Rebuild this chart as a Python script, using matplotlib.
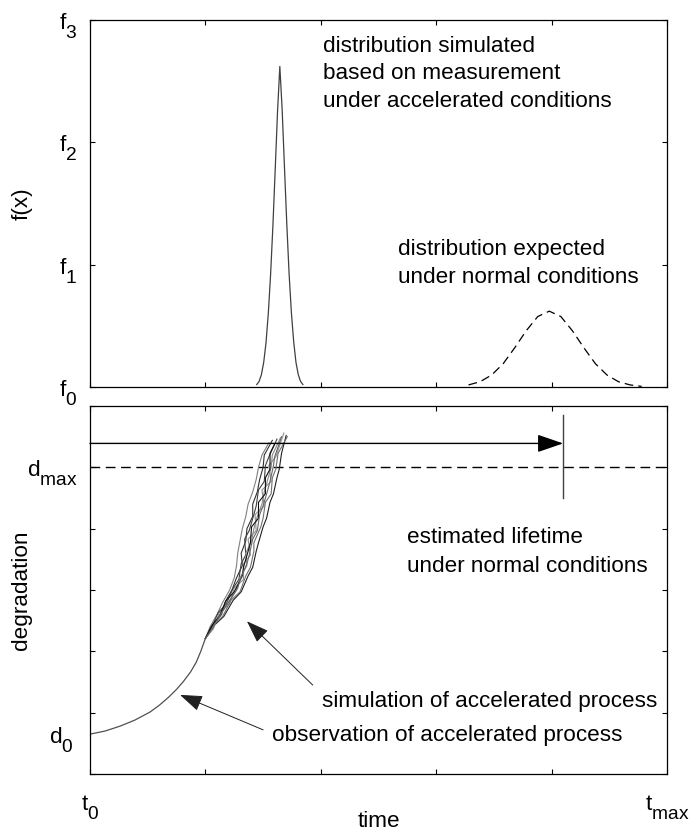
import matplotlib
matplotlib.use("Agg")
import matplotlib.pyplot as plt
try:
    import matplotlib._mathtext as _mt
    _mt.SHRINK_FACTOR = 0.85
    _mt.FontConstantsBase.sub1 = 0.75
    _mt.FontConstantsBase.sub2 = 0.75
except Exception:
    pass

plt.rcParams['font.family'] = ['Liberation Sans', 'DejaVu Sans']
plt.rcParams['mathtext.fontset'] = 'custom'
plt.rcParams['mathtext.rm'] = 'Liberation Sans'
plt.rcParams['mathtext.it'] = 'Liberation Sans:italic'
plt.rcParams['mathtext.bf'] = 'Liberation Sans:bold'

FS = 16.2

# ---------------- data ----------------
x_ticks = [0, 1, 2, 3, 4, 5]
x_ticklabels = [r'$\mathrm{t}_0$', '', '', '', '', r'$\mathrm{t}_{\mathrm{max}}$']
f_ticks = [0, 1, 2, 3]
f_ticklabels = [r'$\mathrm{f}_0$', r'$\mathrm{f}_1$', r'$\mathrm{f}_2$', r'$\mathrm{f}_3$']
d_ticks = [0, 1, 2, 3, 4, 5, 6]
d_ticklabels = ['', '', '', '', '', r'$\mathrm{d}_{\mathrm{max}}$', '']
d0_level = 0.65
dmax_level = 5.0

# simulated distribution (accelerated) - solid peak
acc_x = [1.445, 1.465, 1.485, 1.505, 1.525, 1.545, 1.565, 1.585, 1.605, 1.625, 1.645,
         1.665, 1.685, 1.705, 1.725, 1.745, 1.765, 1.785, 1.805, 1.825, 1.845]
acc_y = [0.02, 0.045, 0.10, 0.20, 0.36, 0.60, 0.92, 1.32, 1.78, 2.25, 2.62,
         2.27, 1.80, 1.34, 0.93, 0.61, 0.37, 0.20, 0.10, 0.045, 0.02]

# expected distribution (normal conditions) - dashed
nor_x = [3.28, 3.38, 3.48, 3.58, 3.68, 3.78, 3.88, 3.98, 4.08, 4.18, 4.28, 4.38, 4.48,
         4.58, 4.68, 4.78]
nor_y = [0.017, 0.043, 0.098, 0.19, 0.32, 0.46, 0.576, 0.62, 0.576, 0.46, 0.32, 0.19,
         0.098, 0.043, 0.017, 0.005]

# observed degradation of accelerated process
obs_x = [0.00, 0.13, 0.26, 0.39, 0.52, 0.60, 0.68, 0.75, 0.81, 0.87, 0.92, 0.96, 1.00]
obs_y = [0.65, 0.70, 0.78, 0.88, 1.01, 1.12, 1.25, 1.38, 1.51, 1.66, 1.82, 2.00, 2.21]

# simulated degradation paths
sim_x = [
    [1.00, 1.04, 1.10, 1.15, 1.21, 1.25, 1.27, 1.28, 1.30, 1.32, 1.35, 1.37, 1.41, 1.44, 1.46, 1.49, 1.55],
    [1.00, 1.08, 1.16, 1.24, 1.31, 1.37, 1.41, 1.44, 1.46, 1.50, 1.53, 1.56, 1.59, 1.62, 1.64, 1.66, 1.70],
    [1.00, 1.07, 1.12, 1.21, 1.25, 1.33, 1.33, 1.39, 1.37, 1.44, 1.43, 1.51, 1.49, 1.57, 1.55, 1.61, 1.68],
    [1.00, 1.05, 1.14, 1.17, 1.23, 1.27, 1.32, 1.31, 1.35, 1.36, 1.41, 1.41, 1.45, 1.47, 1.50, 1.51, 1.58],
    [1.00, 1.07, 1.15, 1.22, 1.30, 1.35, 1.39, 1.42, 1.42, 1.48, 1.50, 1.52, 1.57, 1.58, 1.61, 1.63, 1.71],
    [1.00, 1.05, 1.11, 1.18, 1.24, 1.29, 1.31, 1.35, 1.34, 1.38, 1.42, 1.44, 1.46, 1.51, 1.52, 1.55, 1.62],
    [1.00, 1.07, 1.13, 1.20, 1.27, 1.30, 1.36, 1.35, 1.40, 1.42, 1.45, 1.49, 1.51, 1.54, 1.57, 1.58, 1.65],
    [1.00, 1.06, 1.12, 1.18, 1.25, 1.32, 1.33, 1.37, 1.39, 1.40, 1.46, 1.46, 1.52, 1.52, 1.56, 1.56, 1.60],
    [1.00, 1.06, 1.14, 1.19, 1.28, 1.30, 1.36, 1.38, 1.41, 1.45, 1.47, 1.50, 1.54, 1.56, 1.59, 1.60, 1.66],
]
sim_y = [
    [2.21, 2.40, 2.60, 2.80, 3.00, 3.20, 3.40, 3.60, 3.80, 4.00, 4.20, 4.40, 4.60, 4.80, 5.00, 5.20, 5.40],
    [2.21, 2.43, 2.57, 2.83, 2.97, 3.23, 3.37, 3.63, 3.77, 4.03, 4.17, 4.43, 4.57, 4.83, 4.97, 5.23, 5.52],
    [2.21, 2.37, 2.63, 2.77, 3.03, 3.17, 3.43, 3.57, 3.83, 3.97, 4.23, 4.37, 4.63, 4.77, 5.03, 5.17, 5.56],
    [2.21, 2.40, 2.60, 2.80, 3.00, 3.20, 3.40, 3.60, 3.80, 4.00, 4.20, 4.40, 4.60, 4.80, 5.00, 5.20, 5.44],
    [2.21, 2.43, 2.57, 2.83, 2.97, 3.23, 3.37, 3.63, 3.77, 4.03, 4.17, 4.43, 4.57, 4.83, 4.97, 5.23, 5.50],
    [2.21, 2.37, 2.63, 2.77, 3.03, 3.17, 3.43, 3.57, 3.83, 3.97, 4.23, 4.37, 4.63, 4.77, 5.03, 5.17, 5.46],
    [2.21, 2.40, 2.60, 2.80, 3.00, 3.20, 3.40, 3.60, 3.80, 4.00, 4.20, 4.40, 4.60, 4.80, 5.00, 5.20, 5.48],
    [2.21, 2.43, 2.57, 2.83, 2.97, 3.23, 3.37, 3.63, 3.77, 4.03, 4.17, 4.43, 4.57, 4.83, 4.97, 5.23, 5.38],
    [2.21, 2.37, 2.63, 2.77, 3.03, 3.17, 3.43, 3.57, 3.83, 3.97, 4.23, 4.37, 4.63, 4.77, 5.03, 5.17, 5.50],
]
sim_colors = ['#808080', '#202020', '#909090', '#303030', '#707070', '#404040',
              '#888888', '#101010', '#666666']

lifetime_level = 5.39
lifetime_x = 4.10
lifetime_bar = [4.50, 5.85]

# ---------------- figure ----------------
W, H = 689, 834
fig = plt.figure(figsize=(W / 100, H / 100), dpi=100)
ax1 = fig.add_axes([90 / W, 1 - 387 / H, 577 / W, 367 / H])
ax2 = fig.add_axes([90 / W, 1 - 774 / H, 577 / W, 368 / H])

for ax in (ax1, ax2):
    ax.set_xlim(0, 5)
    ax.set_xticks(x_ticks)
    ax.tick_params(direction='in', length=3.6, width=0.8, top=True, right=True,
                   labelsize=FS, pad=9, colors='black')
    for s in ax.spines.values():
        s.set_linewidth(0.9)
        s.set_color('black')

# top panel
ax1.set_ylim(0, 3)
ax1.set_yticks(f_ticks)
ax1.set_yticklabels(f_ticklabels)
ax1.set_xticklabels([''] * len(x_ticks))
ax1.plot(acc_x, acc_y, color='#404040', lw=0.9)
ax1.plot(nor_x, nor_y, color='black', lw=0.9, linestyle=(0, (7, 4)))
ax1.set_ylabel('f(x)', fontsize=FS)
ax1.yaxis.set_label_coords(-0.1, 0.5)


def tx(xpx, ypx, s):
    fig.text(xpx / W, 1 - ypx / H, s, fontsize=FS, ha='left', va='baseline')


tx(323, 52, 'distribution simulated')
tx(323, 79, 'based on measurement')
tx(323, 107, 'under accelerated conditions')
tx(398, 255, 'distribution expected')
tx(398, 283, 'under normal conditions')

# bottom panel
ax2.set_ylim(0, 6)
ax2.set_yticks(d_ticks)
ax2.set_yticklabels(d_ticklabels)
ax2.set_yticks([d0_level], minor=True)
ax2.set_yticklabels([r'$\mathrm{d}_0$'], minor=True)
ax2.tick_params(axis='y', which='minor', length=0, labelsize=FS, pad=12)
ax2.set_xticklabels(x_ticklabels)
ax2.tick_params(axis='x', pad=14)
ax2.set_ylabel('degradation', fontsize=FS)
ax2.yaxis.set_label_coords(-0.1, 0.5)
ax2.set_xlabel('time', fontsize=FS)
ax2.xaxis.set_label_coords(0.5, -0.1)

ax2.axhline(dmax_level, color='black', lw=1.0, linestyle=(0, (7, 4)))
ax2.plot(obs_x, obs_y, color='#505050', lw=0.9)
for xs, ys, c in zip(sim_x, sim_y, sim_colors):
    ax2.plot(xs, ys, color=c, lw=0.8)

ax2.annotate('', xy=(lifetime_x, lifetime_level), xytext=(0, lifetime_level),
             arrowprops=dict(arrowstyle='-|>,head_length=1.6,head_width=0.55',
                             color='black', lw=1.0, shrinkA=0, shrinkB=0,
                             mutation_scale=10))
ax2.plot([lifetime_x, lifetime_x], lifetime_bar, color='#404040', lw=1.0)

ax2.annotate('', xy=(1.36, 2.49), xytext=(1.93, 1.45),
             arrowprops=dict(arrowstyle='-|>,head_length=1.4,head_width=0.5',
                             color='#202020', lw=0.7, shrinkA=0, shrinkB=0,
                             mutation_scale=10))
ax2.annotate('', xy=(0.78, 1.29), xytext=(1.50, 0.72),
             arrowprops=dict(arrowstyle='-|>,head_length=1.4,head_width=0.5',
                             color='#202020', lw=0.7, shrinkA=0, shrinkB=0,
                             mutation_scale=10))

tx(407, 543, 'estimated lifetime')
tx(407, 572, 'under normal conditions')
tx(322, 707, 'simulation of accelerated process')
tx(272, 741, 'observation of accelerated process')

fig.savefig('out.png', dpi=100)
